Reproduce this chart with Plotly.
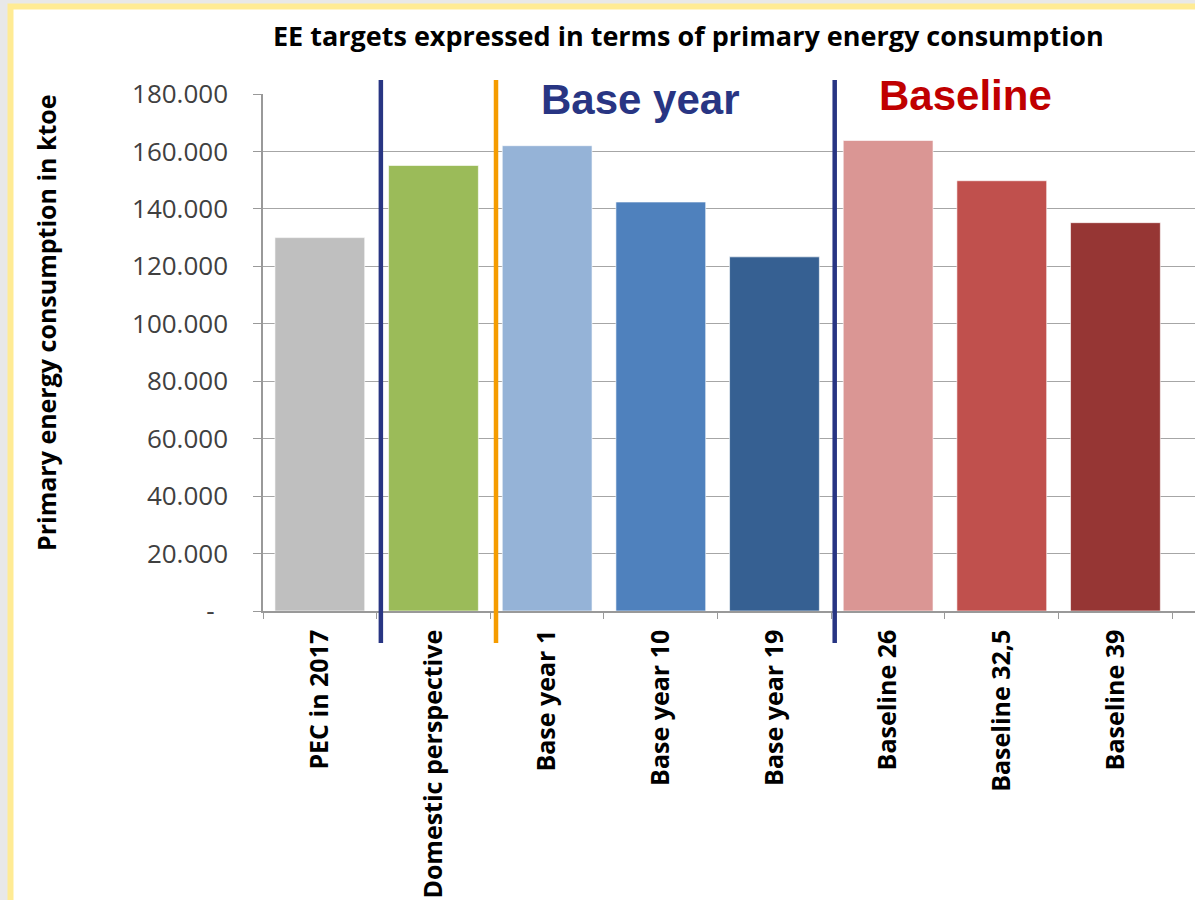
import plotly.graph_objects as go

categories = ["PEC in 2017", "Domestic perspective", "Base year 1", "Base year 10",
              "Base year 19", "Baseline 26", "Baseline 32,5", "Baseline 39"]
values = [130000, 155100, 162000, 142400, 123300, 163800, 149800, 135200]
bar_colors = ["#bfbfbf", "#9bbb59", "#95b3d7", "#4f81bd", "#366092",
              "#da9694", "#c0504d", "#963634"]
y_tickvals = [0, 20000, 40000, 60000, 80000, 100000, 120000, 140000, 160000, 180000]
y_ticktext = ["-\u00a0\u00a0"] + [f"{v // 1000}.000" for v in y_tickvals[1:]]

W, H = 1195, 900
L, R, T, B = 263, 0, 94, 289
PW, PH = W - L - R, H - T - B

def px(x):
    return (x - L) / PW

def py(y):
    return (H - B - y) / PH

fig = go.Figure()
fig.add_trace(go.Bar(
    x=categories, y=values,
    marker=dict(color=bar_colors, line=dict(color="rgba(255,255,255,0.6)", width=1)),
    hoverinfo="x+y",
))

shapes = [
    dict(type="rect", xref="paper", yref="paper", x0=px(7.5), x1=px(W + 10), y0=py(3.5), y1=py(H + 10),
         fillcolor="#ffeb94", line=dict(width=0), layer="below"),
    dict(type="rect", xref="paper", yref="paper", x0=px(13.5), x1=px(W + 10), y0=py(9.5), y1=py(H + 10),
         fillcolor="white", line=dict(width=0), layer="below"),
]
for xc, col in [(0.537, "#283583"), (1.55, "#f59c00"), (4.53, "#283583")]:
    shapes.append(dict(type="line", xref="x", yref="paper", x0=xc, x1=xc, y0=py(643), y1=py(80),
                       line=dict(color=col, width=4.5), layer="above"))

annotations = [
    dict(text="EE targets expressed in terms of primary energy consumption", xref="paper", yref="paper",
         x=px(688), y=py(36), xanchor="center", yanchor="middle", showarrow=False,
         font=dict(family="Open Sans", size=27, color="black", weight="bold")),
    dict(text="Primary energy consumption in ktoe", xref="paper", yref="paper",
         x=px(46), y=py(323), xanchor="center", yanchor="middle", showarrow=False, textangle=-90,
         font=dict(family="Open Sans", size=25, color="black", weight="bold")),
    dict(text="Base year", xref="x", yref="paper", x=2.82, y=py(99), xanchor="center", yanchor="middle",
         showarrow=False, font=dict(family="Liberation Sans", size=42, color="#283583", weight="bold")),
    dict(text="Baseline", xref="x", yref="paper", x=5.68, y=py(95), xanchor="center", yanchor="middle",
         showarrow=False, font=dict(family="Liberation Sans", size=42, color="#c00000", weight="bold")),
]

fig.update_layout(
    width=W, height=H,
    margin=dict(l=L, r=R, t=T, b=B, pad=0),
    paper_bgcolor="#e8e8e8", plot_bgcolor="rgba(0,0,0,0)",
    bargap=0.21, showlegend=False,
    shapes=shapes, annotations=annotations,
    xaxis=dict(type="category", range=[-0.5, 7.7], tickson="boundaries", ticks="outside",
               ticklen=6, tickcolor="#999999", tickwidth=1.3, tickangle=-90,
               showline=True, linecolor="#999999", linewidth=1.5, showgrid=False,
               ticklabelstandoff=7,
               tickfont=dict(family="Open Sans", size=25, color="black", weight="bold")),
    yaxis=dict(range=[0, 180000], tickvals=y_tickvals, ticktext=y_ticktext, ticks="outside",
               ticklen=8, tickcolor="#999999", tickwidth=1.3, showline=True, linecolor="#999999",
               linewidth=1.5, showgrid=True, gridcolor="#a6a6a6", gridwidth=1.3, zeroline=False,
               ticklabelstandoff=20,
               tickfont=dict(family="Open Sans", size=26, color="#404040")),
)

fig.write_html("out.html")
